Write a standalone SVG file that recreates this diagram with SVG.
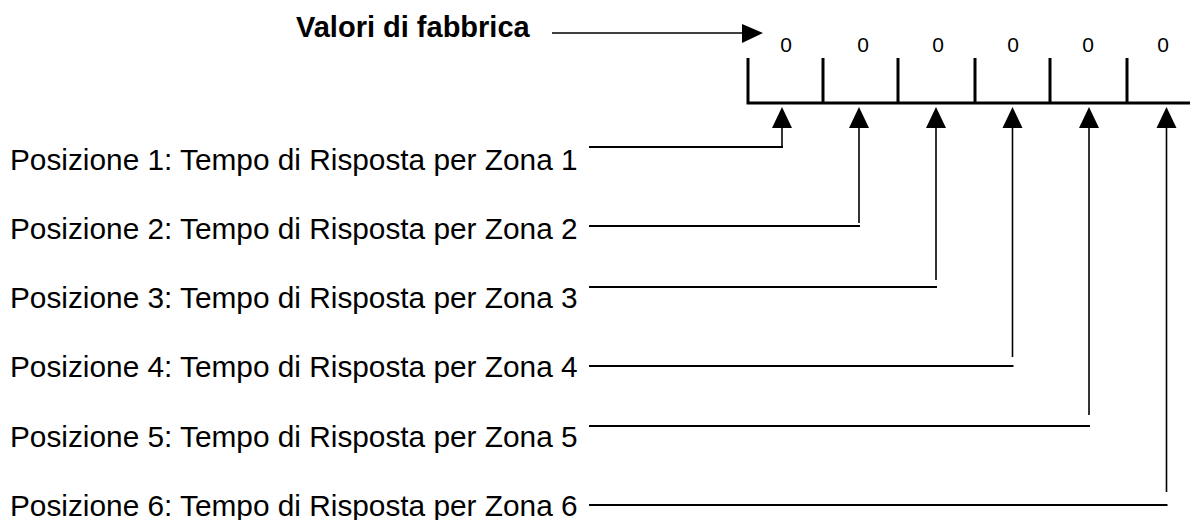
<svg xmlns="http://www.w3.org/2000/svg" width="1193" height="520" viewBox="0 0 1193 520">
<style>
.lbl{font-family:"Liberation Sans",Arial,sans-serif;font-size:29.8px;fill:#000}
.title{font-family:"Liberation Sans",Arial,sans-serif;font-size:29px;font-weight:bold;fill:#000}
.val{font-family:"Liberation Sans",Arial,sans-serif;font-size:21px;fill:#000;text-anchor:middle}
.bar{stroke:#000;stroke-width:3;fill:none}
.h{stroke:#000;stroke-width:2;fill:none}
.v{stroke:#000;stroke-width:1.6;fill:none}
.head{fill:#000}
</style>
<rect width="1193" height="520" fill="#fff"/>
<g id="title">
<text class="title" x="296" y="37">Valori di fabbrica</text>
</g>
<g id="register">
<path class="bar" d="M748 58V103M823 58V103M898 58V103M975 58V103M1050 58V103M1127 58V103M746.5 103H1190"/>
<text class="val" x="786" y="52">0</text>
<text class="val" x="863" y="52">0</text>
<text class="val" x="938" y="52">0</text>
<text class="val" x="1013" y="52">0</text>
<text class="val" x="1088" y="52">0</text>
<text class="val" x="1163" y="52">0</text>
</g>
<g id="pos1"><text class="lbl" x="10" y="169.5">Posizione 1: Tempo di Risposta per Zona 1</text></g>
<g id="pos2"><text class="lbl" x="10" y="238.5">Posizione 2: Tempo di Risposta per Zona 2</text></g>
<g id="pos3"><text class="lbl" x="10" y="308">Posizione 3: Tempo di Risposta per Zona 3</text></g>
<g id="pos4"><text class="lbl" x="10" y="377">Posizione 4: Tempo di Risposta per Zona 4</text></g>
<g id="pos5"><text class="lbl" x="10" y="446.5">Posizione 5: Tempo di Risposta per Zona 5</text></g>
<g id="pos6"><text class="lbl" x="10" y="515.5">Posizione 6: Tempo di Risposta per Zona 6</text></g>
<g id="connectors">
<path class="v" d="M552 33H742"/>
<polygon class="head" points="742,24 763,33 742,43"/>
<path class="h" d="M589 147H783"/><path class="v" d="M782 127V147"/>
<polygon class="head" points="772,128 782,107 792,128"/>
<path class="h" d="M589 226H860"/><path class="v" d="M859 127V223"/>
<polygon class="head" points="849,128 859,107 869,128"/>
<path class="h" d="M589 287H937"/><path class="v" d="M936 127V280"/>
<polygon class="head" points="926,128 936,107 946,128"/>
<path class="h" d="M589 366H1013.5"/><path class="v" d="M1012.5 127V357"/>
<polygon class="head" points="1002.5,128 1012.5,107 1022.5,128"/>
<path class="h" d="M589 426H1090"/><path class="v" d="M1089 127V415"/>
<polygon class="head" points="1079,128 1089,107 1099,128"/>
<path class="h" d="M589 505H1167.5"/><path class="v" d="M1166.5 127V492"/>
<polygon class="head" points="1156.5,128 1166.5,107 1176.5,128"/>
</g>
</svg>
